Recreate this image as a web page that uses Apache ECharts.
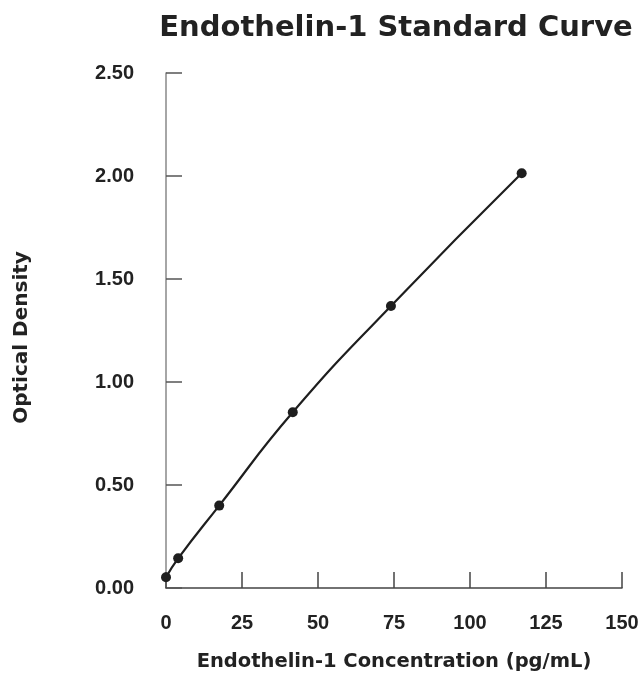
<!DOCTYPE html>
<html>
<head>
<meta charset="utf-8">
<script src="https://cdn.jsdelivr.net/npm/echarts@6/dist/echarts.min.js"></script>
<style>
  html, body { margin: 0; padding: 0; background: #fff; }
  #chart { width: 644px; height: 674px; }
</style>
</head>
<body>
<div id="chart"></div>
<script>
// standards
var concentration = [0, 4.0, 17.5, 41.7, 74.0, 117.0];
var opticalDensity = [0.052, 0.144, 0.40, 0.853, 1.369, 2.013];
var xTicks = [0, 25, 50, 75, 100, 125, 150];
var yTicks = [0, 0.5, 1.0, 1.5, 2.0, 2.5];

var points = concentration.map(function (c, i) { return [c, opticalDensity[i]]; });
var wideFont = '"DejaVu Sans", sans-serif';
var numFont = '"Liberation Sans", Arial, sans-serif';

var myChart = echarts.init(document.getElementById('chart'), null, { renderer: 'canvas' });
myChart.setOption({
    animation: false,
    backgroundColor: '#fff',
    title: {
        text: 'Endothelin-1 Standard Curve',
        left: 391,
        top: 9,
        textAlign: 'center',
        textStyle: { fontFamily: wideFont, fontSize: 29, fontWeight: 'bold', color: '#222' }
    },
    grid: { left: 166, top: 73, right: 22, bottom: 86, outerBoundsMode: 'none', containLabel: false },
    xAxis: {
        type: 'value',
        min: xTicks[0],
        max: xTicks[xTicks.length - 1],
        interval: 25,
        name: 'Endothelin-1 Concentration (pg/mL)',
        nameLocation: 'middle',
        nameGap: 64,
        nameTextStyle: { fontFamily: wideFont, fontSize: 19.5, fontWeight: 'bold', color: '#222' },
        axisLine: { lineStyle: { color: '#444', width: 1.5 } },
        axisTick: { inside: true, length: 16, lineStyle: { color: '#444', width: 1.5 } },
        axisLabel: { margin: 25, fontFamily: numFont, fontSize: 20, fontWeight: 'bold', color: '#222' },
        splitLine: { show: false }
    },
    yAxis: {
        type: 'value',
        min: yTicks[0],
        max: yTicks[yTicks.length - 1],
        interval: 0.5,
        name: 'Optical Density',
        nameLocation: 'middle',
        nameRotate: 90,
        nameGap: 134,
        nameTextStyle: { fontFamily: wideFont, fontSize: 20, fontWeight: 'bold', color: '#222', padding: [0, 14, 0, 0] },
        axisLine: { show: true, lineStyle: { color: '#888', width: 1.5 } },
        axisTick: { show: true, inside: true, length: 16, lineStyle: { color: '#555', width: 1.5 } },
        axisLabel: {
            margin: 32, fontFamily: numFont, fontSize: 20, fontWeight: 'bold', color: '#222',
            padding: [5, 0, 0, 0],
            formatter: function (v) { return v.toFixed(2); }
        },
        splitLine: { show: false }
    },
    series: [{
        type: 'line',
        data: points,
        smooth: true,
        symbol: 'circle',
        symbolSize: 10,
        itemStyle: { color: '#1e1e1e' },
        lineStyle: { color: '#1e1e1e', width: 2.2 }
    }]
});
</script>
</body>
</html>
